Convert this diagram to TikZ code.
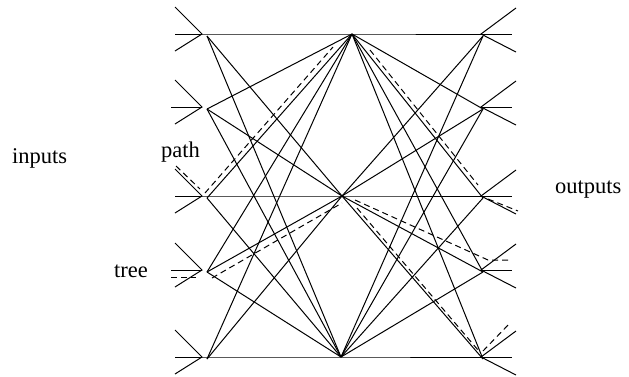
\documentclass[tikz,border=0pt]{standalone}
\usepackage{fontspec}
\setmainfont{Liberation Serif}
\begin{document}
\begin{tikzpicture}[x=1pt,y=-1pt,
  wire/.style={draw=black, line width=1pt},
  dashwire/.style={draw=black, line width=1pt, dash pattern=on 6pt off 4pt},
  lbl/.style={font=\fontsize{22.5}{26}\selectfont, inner sep=0pt}]
\useasboundingbox (0,0) rectangle (629,376);

% middle nodes
\coordinate (m1) at (352,34);
\coordinate (m2) at (342,196);
\coordinate (m3) at (341,357);

% input and output nodes
\foreach \i/\y/\hx in {1/34/175, 2/107/171, 3/196/175, 4/270/171, 5/357/175}{
  \coordinate (a\i) at (202,\y);
  \coordinate (b\i) at (207,\y+2);
  \coordinate (iu\i) at (175,\y-27);
  \coordinate (ih\i) at (\hx,\y);
  \coordinate (il\i) at (175,\y+17);
  \coordinate (d\i) at (481,\y);
  \coordinate (c\i) at (483,\y+2);
  \coordinate (ou\i) at (516,\y-26);
  \coordinate (oh\i) at (512,\y);
  \coordinate (ol\i) at (516,\y+18);
  \draw[wire] (iu\i) -- (a\i) -- (il\i);
  \draw[wire] (ih\i) -- (a\i);
  \draw[wire] (ou\i) -- (d\i) -- (ol\i);
  \draw[wire] (d\i) -- (oh\i);
}

% horizontal through-lines
\draw[wire] (a1) -- (m1) -- (d1);
\draw[wire] (a3) -- (m2) -- (d3);
\draw[wire] (a5) -- (m3) -- (d5);

% inputs to middle stage
\foreach \i/\m in {1/m2,1/m3, 2/m1,2/m2,2/m3, 3/m1,3/m3, 4/m1,4/m2,4/m3, 5/m1,5/m2}{
  \draw[wire] (b\i) -- (\m);
}
% middle stage to outputs
\foreach \i/\m in {1/m2,1/m3, 2/m1,2/m2,2/m3, 3/m1,3/m3, 4/m1,4/m2,4/m3, 5/m1,5/m2}{
  \draw[wire] (\m) -- (c\i);
}

% path (dashed)
\coordinate (p1s) at (176,166); \coordinate (p1e) at (200,189);
\coordinate (p2s) at (205,193); \coordinate (p2e) at (333,47);
\coordinate (p3s) at (370,50);  \coordinate (p3e) at (478,185);
\coordinate (p4s) at (488,199); \coordinate (p4e) at (518,211);
\draw[dashwire] (p1s) -- (p1e);
\draw[dashwire] (p2s) -- (p2e);
\draw[dashwire] (p3s) -- (p3e);
\draw[dashwire] (p4s) -- (p4e);

% tree (dashed)
\coordinate (t1s) at (171,277); \coordinate (t1e) at (196,277);
\coordinate (t2s) at (212,278); \coordinate (t2e) at (342,203);
\coordinate (t3s) at (355,200); \coordinate (t3k) at (488,260); \coordinate (t3e) at (512,260);
\coordinate (t4s) at (357,208); \coordinate (t4e) at (478,350);
\coordinate (t5s) at (483,351); \coordinate (t5e) at (510,323);
\draw[dashwire] (t1s) -- (t1e);
\draw[dashwire] (t2s) -- (t2e);
\draw[dashwire] (t3s) -- (t3k) -- (t3e);
\draw[dashwire] (t4s) -- (t4e);
\draw[dashwire] (t5s) -- (t5e);

% labels
\node[lbl, anchor=base west] (inputs) at (12,163) {inputs};
\node[lbl, anchor=base west] (outputs) at (555,193) {outputs};
\node[lbl, anchor=base west] (path) at (161,157) {path};
\node[lbl, anchor=base east] (tree) at (148,277) {tree};
\end{tikzpicture}
\end{document}
